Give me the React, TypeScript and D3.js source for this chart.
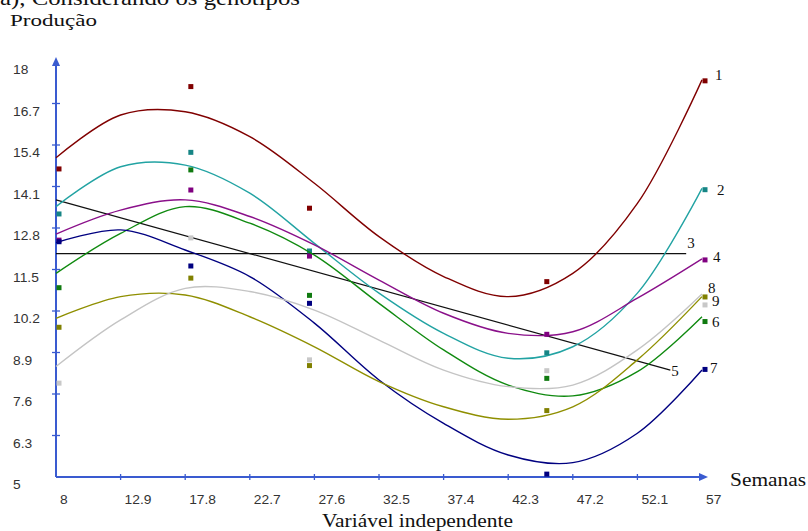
import React from 'react'
import * as d3 from 'd3'

const sampleX = [8, 12.9, 17.8, 22.7, 27.6, 32.5, 37.4, 42.3, 47.2, 52.1, 57]
// observed weeks
const obsX = [8, 18, 27, 45, 57]

const fit1 = [15.0, 16.34, 16.44, 15.66, 14.2, 12.53, 11.28, 10.65, 11.38, 13.57, 17.44]
const fit2 = [13.47, 14.72, 14.77, 13.89, 12.32, 10.76, 9.5, 8.72, 9.08, 10.76, 14.04]
const fit4 = [12.61, 13.36, 13.68, 13.16, 12.27, 11.17, 10.13, 9.5, 9.55, 10.6, 11.83]
const fit6 = [11.38, 12.63, 13.47, 12.95, 11.95, 10.44, 8.98, 7.88, 7.54, 8.3, 10.02]
const fit7 = [12.34, 12.74, 12.11, 11.28, 9.82, 8.04, 6.68, 5.69, 5.45, 6.37, 8.35]
const fit8 = [9.97, 10.65, 10.7, 10.02, 9.08, 7.99, 7.2, 6.81, 7.2, 8.67, 10.65]
const fit9 = [8.46, 9.92, 10.91, 10.81, 10.23, 9.29, 8.35, 7.83, 7.88, 8.98, 10.73]

const obs1 = [14.65, 17.23, 13.42, 11.12, 17.41]
const obs2 = [13.24, 15.17, 12.08, 8.89, 14.0]
const obs4 = [12.42, 13.99, 11.92, 9.47, 11.8]
const obs6 = [10.93, 14.62, 10.69, 8.09, 9.87]
const obs7 = [12.37, 11.61, 10.44, 5.09, 8.37]
const obs8 = [9.69, 11.23, 8.49, 7.08, 10.64]
const obs9 = [7.94, 12.49, 8.67, 8.33, 10.39]

// straight lines (3: mean, 5: linear)
const line3X = [8, 55.8]
const line3Y = [12.0, 12.0]
const line5X = [8, 54.6]
const line5Y = [13.68, 8.35]

const xTicks = [8, 12.9, 17.8, 22.7, 27.6, 32.5, 37.4, 42.3, 47.2, 52.1, 57]
const yTicks = [5, 6.3, 7.6, 8.9, 10.2, 11.5, 12.8, 14.1, 15.4, 16.7, 18]

const curves = [
  { name: '1', fit: fit1, obs: obs1, color: '#800000', mark: '#800000', dx: 13, dy: -5 },
  { name: '2', fit: fit2, obs: obs2, color: '#22a3a3', mark: '#168585', dx: 15, dy: 2 },
  { name: '4', fit: fit4, obs: obs4, color: '#8a108a', mark: '#800080', dx: 11, dy: -2 },
  { name: '6', fit: fit6, obs: obs6, color: '#108a10', mark: '#107a10', dx: 10, dy: 5 },
  { name: '7', fit: fit7, obs: obs7, color: '#000080', mark: '#000080', dx: 8, dy: -2 },
  { name: '8', fit: fit8, obs: obs8, color: '#8f8f00', mark: '#808000', dx: 6, dy: -9 },
  { name: '9', fit: fit9, obs: obs9, color: '#c4c4c4', mark: '#c8c8c8', dx: 10, dy: 7 },
]

const axisColor = '#3a5bd0'

export default function App() {
  const x = d3.scaleLinear().domain([8, 57]).range([56, 702])
  const y = d3.scaleLinear().domain([5, 18]).range([477, 62])

  const smooth = d3
    .line<number[]>()
    .x((d) => x(d[0]))
    .y((d) => y(d[1]))
    .curve(d3.curveCatmullRom.alpha(0.5))
  const straight = d3
    .line<number[]>()
    .x((d) => x(d[0]))
    .y((d) => y(d[1]))

  const y0 = y(5)
  const x0 = x(8)

  return (
    <svg
      width={808}
      height={531}
      style={{ position: 'absolute', left: 0, top: 0, background: '#fff' }}
    >
      <text
        x={0}
        y={5}
        fontFamily="Liberation Serif, serif"
        fontSize={22}
        textLength={300}
        lengthAdjust="spacingAndGlyphs"
        fill="#111"
      >
        a), Considerando os genótipos
      </text>
      <text
        x={10}
        y={26}
        fontFamily="Liberation Serif, serif"
        fontSize={17}
        textLength={87}
        lengthAdjust="spacingAndGlyphs"
        fill="#111"
      >
        Produção
      </text>

      {/* axes */}
      <line x1={x0} x2={x0} y1={y0} y2={60} stroke={axisColor} strokeWidth={2} />
      <path d={`M${x0 - 4},${66} L${x0},${57} L${x0 + 4},${66} Z`} fill={axisColor} />
      <line x1={x0} x2={704} y1={y0} y2={y0} stroke={axisColor} strokeWidth={2} />
      <path d={`M${699},${y0 - 4} L${708},${y0} L${699},${y0 + 4} Z`} fill={axisColor} />
      {yTicks.map((t) => (
        <g key={'y' + t}>
          {t !== 5 && t !== 18 && (
            <line x1={x0 - 4} x2={x0 + 4} y1={y(t)} y2={y(t)} stroke={axisColor} strokeWidth={1.3} />
          )}
          <text
            transform={`translate(13,${y(t) + 12}) scale(1.15,1)`}
            fontFamily="Liberation Sans, Arial, sans-serif"
            fontSize={12}
            fill="#333"
          >
            {t}
          </text>
        </g>
      ))}
      {xTicks.map((t) => (
        <g key={'x' + t}>
          {t !== 8 && t !== 57 && (
            <line x1={x(t)} x2={x(t)} y1={y0 - 3} y2={y0 + 3} stroke={axisColor} strokeWidth={1.3} />
          )}
          <text
            transform={`translate(${x(t) + 4},504) scale(1.15,1)`}
            fontFamily="Liberation Sans, Arial, sans-serif"
            fontSize={12}
            fill="#333"
          >
            {t}
          </text>
        </g>
      ))}
      <text
        x={730}
        y={486}
        fontFamily="Liberation Serif, serif"
        fontSize={19}
        textLength={76}
        lengthAdjust="spacingAndGlyphs"
        fill="#111"
      >
        Semanas
      </text>
      <text
        x={322}
        y={527}
        fontFamily="Liberation Serif, serif"
        fontSize={19}
        textLength={191}
        lengthAdjust="spacingAndGlyphs"
        fill="#111"
      >
        Variável independente
      </text>

      {/* straight lines */}
      <path
        d={straight(line3X.map((v, i) => [v, line3Y[i]])) || ''}
        fill="none"
        stroke="#111"
        strokeWidth={1.2}
      />
      <path
        d={straight(line5X.map((v, i) => [v, line5Y[i]])) || ''}
        fill="none"
        stroke="#111"
        strokeWidth={1.2}
      />
      <text
        x={x(line3X[1]) + 1}
        y={y(line3Y[1]) - 6}
        fontFamily="Liberation Serif, serif"
        fontSize={15}
        fill="#111"
      >
        3
      </text>
      <text
        x={x(line5X[1]) + 1}
        y={y(line5Y[1]) + 6}
        fontFamily="Liberation Serif, serif"
        fontSize={15}
        fill="#111"
      >
        5
      </text>

      {/* fitted curves and observations */}
      {curves.map((c) => (
        <g key={c.name}>
          <path
            d={smooth(sampleX.map((v, i) => [v, c.fit[i]])) || ''}
            fill="none"
            stroke={c.color}
            strokeWidth={1.4}
          />
          {c.obs.map((v, i) => (
            <rect
              key={i}
              x={x(obsX[i]) + 0.5}
              y={y(v) - 2.5}
              width={5}
              height={5}
              fill={c.mark}
            />
          ))}
          <text
            x={x(57) + c.dx}
            y={y(c.fit[c.fit.length - 1]) + c.dy + 5}
            fontFamily="Liberation Serif, serif"
            fontSize={15}
            fill="#111"
          >
            {c.name}
          </text>
        </g>
      ))}
    </svg>
  )
}
